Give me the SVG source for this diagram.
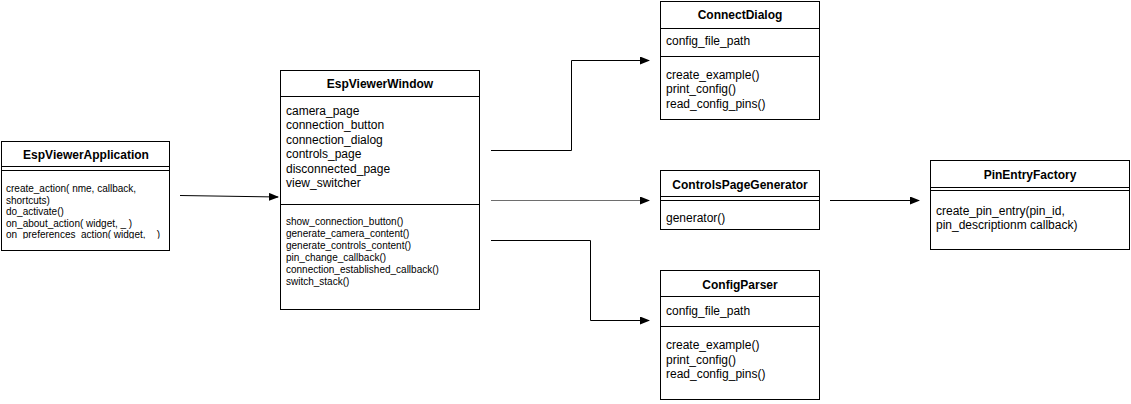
<svg xmlns="http://www.w3.org/2000/svg" width="1131" height="404" viewBox="0 0 1131 404">
<style>
.box{fill:#fff;stroke:#000;stroke-width:1}
.ln{stroke:#000;stroke-width:1;fill:none}
.t{font-family:"Liberation Sans",Arial,sans-serif;font-size:12px;font-weight:bold;text-anchor:middle;fill:#000}
.a{font-family:"Liberation Sans",Arial,sans-serif;font-size:12px;fill:#000}
.m{font-family:"Liberation Sans",Arial,sans-serif;font-size:10px;fill:#000}
.c{stroke:#000;stroke-width:1;fill:none}
</style>
<defs>
<marker id="arr" markerWidth="10" markerHeight="8" refX="9" refY="4" orient="auto" markerUnits="userSpaceOnUse">
<path d="M0,0 L10,4 L0,8 Z" fill="#000"/>
</marker>
<clipPath id="appclip"><rect x="1" y="141" width="168" height="97.8"/></clipPath>
</defs>
<rect width="1131" height="404" fill="#fff"/>

<g id="EspViewerApplication">
<rect class="box" x="1.5" y="141.5" width="168" height="109"/>
<text class="t" x="86" y="159">EspViewerApplication</text>
<line class="ln" x1="1.5" y1="166.5" x2="169.5" y2="166.5"/>
<line class="ln" x1="1.5" y1="170.5" x2="169.5" y2="170.5"/>
<g clip-path="url(#appclip)">
<text class="m" x="6" y="192">create_action( nme, callback,</text>
<text class="m" x="6" y="203.5">shortcuts)</text>
<text class="m" x="6" y="215">do_activate()</text>
<text class="m" x="6" y="226.5">on_about_action( widget, _ )</text>
<text class="m" x="6" y="238">on_preferences_action( widget, _ )</text>
</g>
</g>

<g id="EspViewerWindow">
<rect class="box" x="280.5" y="70.5" width="199" height="239"/>
<text class="t" x="380" y="88">EspViewerWindow</text>
<line class="ln" x1="280.5" y1="96.5" x2="479.5" y2="96.5"/>
<text class="a" x="286" y="115">camera_page</text>
<text class="a" x="286" y="129.4">connection_button</text>
<text class="a" x="286" y="143.8">connection_dialog</text>
<text class="a" x="286" y="158.2">controls_page</text>
<text class="a" x="286" y="172.6">disconnected_page</text>
<text class="a" x="286" y="187">view_switcher</text>
<line class="ln" x1="280.5" y1="204.5" x2="479.5" y2="204.5"/>
<text class="m" x="286" y="225.3">show_connection_button()</text>
<text class="m" x="286" y="237.3">generate_camera_content()</text>
<text class="m" x="286" y="249.3">generate_controls_content()</text>
<text class="m" x="286" y="261.3">pin_change_callback()</text>
<text class="m" x="286" y="273.3">connection_established_callback()</text>
<text class="m" x="286" y="285.3">switch_stack()</text>
</g>

<g id="ConnectDialog">
<rect class="box" x="660.5" y="1.5" width="159" height="118"/>
<text class="t" x="740" y="19">ConnectDialog</text>
<line class="ln" x1="660.5" y1="28.5" x2="819.5" y2="28.5"/>
<text class="a" x="666" y="45">config_file_path</text>
<line class="ln" x1="660.5" y1="56.5" x2="819.5" y2="56.5"/>
<text class="a" x="666" y="78.5">create_example()</text>
<text class="a" x="666" y="93">print_config()</text>
<text class="a" x="666" y="107.5">read_config_pins()</text>
</g>

<g id="ControlsPageGenerator">
<rect class="box" x="660.5" y="170.5" width="159" height="59"/>
<text class="t" x="740" y="189">ControlsPageGenerator</text>
<line class="ln" x1="660.5" y1="196.5" x2="819.5" y2="196.5"/>
<line class="ln" x1="660.5" y1="200.5" x2="819.5" y2="200.5"/>
<text class="a" x="666" y="222">generator()</text>
</g>

<g id="ConfigParser">
<rect class="box" x="660.5" y="270.5" width="159" height="129"/>
<text class="t" x="740" y="289">ConfigParser</text>
<line class="ln" x1="660.5" y1="296.5" x2="819.5" y2="296.5"/>
<text class="a" x="666" y="314.5">config_file_path</text>
<line class="ln" x1="660.5" y1="326.5" x2="819.5" y2="326.5"/>
<text class="a" x="666" y="349">create_example()</text>
<text class="a" x="666" y="363.5">print_config()</text>
<text class="a" x="666" y="378">read_config_pins()</text>
</g>

<g id="PinEntryFactory">
<rect class="box" x="930.5" y="160.5" width="199" height="89"/>
<text class="t" x="1030" y="179">PinEntryFactory</text>
<line class="ln" x1="930.5" y1="187.5" x2="1129.5" y2="187.5"/>
<line class="ln" x1="930.5" y1="190.5" x2="1129.5" y2="190.5"/>
<text class="a" x="936" y="214.5">create_pin_entry(pin_id,</text>
<text class="a" x="936" y="228.5">pin_descriptionm callback)</text>
</g>

<g id="connectors">
<path class="c" d="M180,195.5 L278,197" marker-end="url(#arr)"/>
<path class="c" d="M491,150.5 L571.5,150.5 L571.5,60.5 L649,60.5" marker-end="url(#arr)"/>
<path class="c" d="M491,200.5 L649,200.5" style="stroke:#6e6e6e" marker-end="url(#arr)"/>
<path class="c" d="M491,240.5 L590.5,240.5 L590.5,320.5 L649,320.5" marker-end="url(#arr)"/>
<path class="c" d="M830,200.5 L919,200.5" marker-end="url(#arr)"/>
</g>
</svg>
